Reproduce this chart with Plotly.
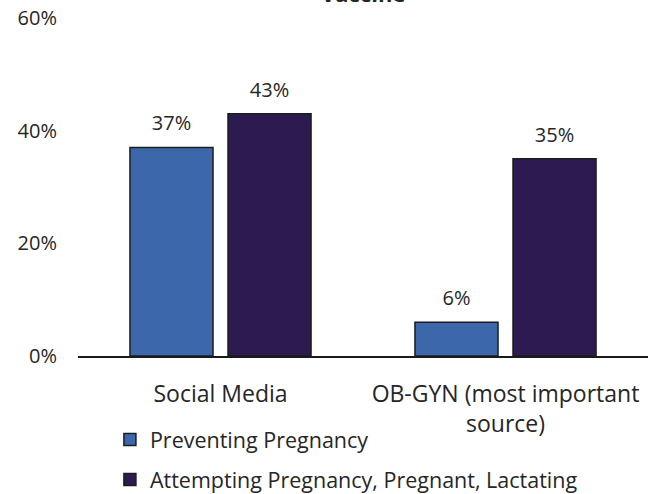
import plotly.graph_objects as go

# Share of respondents citing each source, by pregnancy status
categories = ["Social Media", "OB-GYN (most important<br>source)"]
series_names = ["Preventing Pregnancy", "Attempting Pregnancy, Pregnant, Lactating"]
preventing = [37, 6]
attempting = [43, 35]
y_ticks = [0, 20, 40, 60]
y_tick_labels = [f"{v}%" for v in y_ticks]

colors = ["#3C68AB", "#2D1A50"]
outline = "#1c1c1c"
text_color = "#262626"
font_family = "Open Sans"

fig = go.Figure()

for i, (name, vals) in enumerate(zip(series_names, [preventing, attempting])):
    fig.add_trace(go.Bar(
        x=categories, y=vals, name=name,
        marker=dict(color=colors[i], line=dict(color=outline, width=1.5)),
        legendgroup=f"g{i}",
        hoverinfo="skip",
    ))

# Value labels placed above each bar
for i, vals in enumerate([preventing, attempting]):
    fig.add_trace(go.Scatter(
        x=categories, y=vals, mode="markers+text",
        text=[f"{v}%" for v in vals], textposition="top center",
        textfont=dict(family=font_family, size=20, color=text_color),
        marker=dict(size=18, opacity=0),
        showlegend=False, hoverinfo="skip", cliponaxis=False,
    ))

fig.add_annotation(
    text="<b>Vaccine</b>", x=0.5, y=1.024, xref="paper", yref="paper",
    xanchor="center", yanchor="bottom", showarrow=False,
    font=dict(family=font_family, size=22, color=text_color),
)

fig.update_layout(
    width=656, height=494,
    margin=dict(l=78, r=8, t=18, b=138),
    paper_bgcolor="white", plot_bgcolor="white",
    barmode="group", bargap=0.312, bargroupgap=0.153,
    scattermode="group", scattergap=0.312,
    font=dict(family=font_family, size=20, color=text_color),
    legend=dict(
        x=0.056, y=1 - 419 / 494, xref="paper", yref="container",
        xanchor="left", yanchor="top",
        traceorder="grouped", tracegroupgap=9,
        font=dict(family=font_family, size=21.5, color=text_color),
        bgcolor="rgba(0,0,0,0)",
    ),
    showlegend=True,
)

fig.update_xaxes(
    automargin=False,
    showline=True, linecolor="#1a1a1a", linewidth=2,
    showgrid=False, zeroline=False, ticks="",
    ticklabelstandoff=16,
    tickfont=dict(family=font_family, size=23, color=text_color),
)
fig.update_yaxes(
    automargin=False,
    range=[0, 60], tickvals=y_ticks, ticktext=y_tick_labels,
    showline=False, showgrid=False, zeroline=False, ticks="",
    ticklabelstandoff=20,
    tickfont=dict(family=font_family, size=20, color=text_color),
)

fig.write_html("out.html")
